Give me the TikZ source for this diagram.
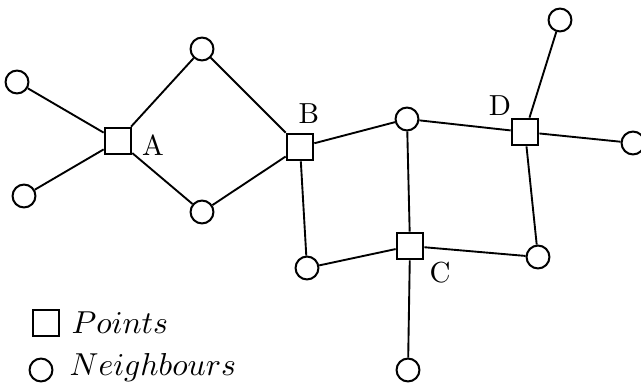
\documentclass[tikz,border=0pt]{standalone}
\usepackage{fontspec}
\begin{document}
\begin{tikzpicture}[x=0.345pt,y=-0.345pt,
  ptbox/.style={draw, rectangle, minimum size=9.2pt, inner sep=0pt, line width=0.7pt},
  nbr/.style={draw, circle, minimum size=7.9pt, inner sep=0pt, line width=0.7pt},
  lbl/.style={inner sep=0pt, font=\fontsize{10}{12}\selectfont},
  legtxt/.style={inner sep=0pt, anchor=base west, font=\fontsize{10.95}{13}\selectfont},
  edge/.style={line width=0.65pt}]
\useasboundingbox (0,0) rectangle (641,385);
% points
\node[ptbox] (A) at (118,141) {};
\node[ptbox] (B) at (300,147) {};
\node[ptbox] (C) at (410,246) {};
\node[ptbox] (D) at (525,132) {};
% neighbours
\node[nbr] (n1) at (17,82) {};
\node[nbr] (n2) at (24,196) {};
\node[nbr] (n3) at (202,49) {};
\node[nbr] (n4) at (202,212) {};
\node[nbr] (n5) at (407,119) {};
\node[nbr] (n6) at (307,268) {};
\node[nbr] (n7) at (538,257) {};
\node[nbr] (n8) at (408,370) {};
\node[nbr] (n9) at (560,20) {};
\node[nbr] (n10) at (633,143) {};
% labels
\node[lbl] (lA) at (153,145) {A};
\node[lbl] (lB) at (309,114) {B};
\node[lbl] (lD) at (500,106) {D};
\node[lbl] (lC) at (440,273) {C};
% edges
\draw[edge] (A) -- (n1);
\draw[edge] (A) -- (n2);
\draw[edge] (A) -- (n3);
\draw[edge] (A) -- (n4);
\draw[edge] (n3) -- (B);
\draw[edge] (n4) -- (B);
\draw[edge] (B) -- (n5);
\draw[edge] (B) -- (n6);
\draw[edge] (n5) -- (D);
\draw[edge] (n5) -- (C);
\draw[edge] (C) -- (n6);
\draw[edge] (C) -- (n7);
\draw[edge] (C) -- (n8);
\draw[edge] (D) -- (n9);
\draw[edge] (D) -- (n10);
\draw[edge] (D) -- (n7);
% legend
\node[ptbox] (lsq) at (46,323) {};
\node[nbr] (lci) at (41,370) {};
\node[legtxt] (tP) at (71,333) {$Points$};
\node[legtxt] (tN) at (69,375) {$Neighbours$};
\end{tikzpicture}
\end{document}
